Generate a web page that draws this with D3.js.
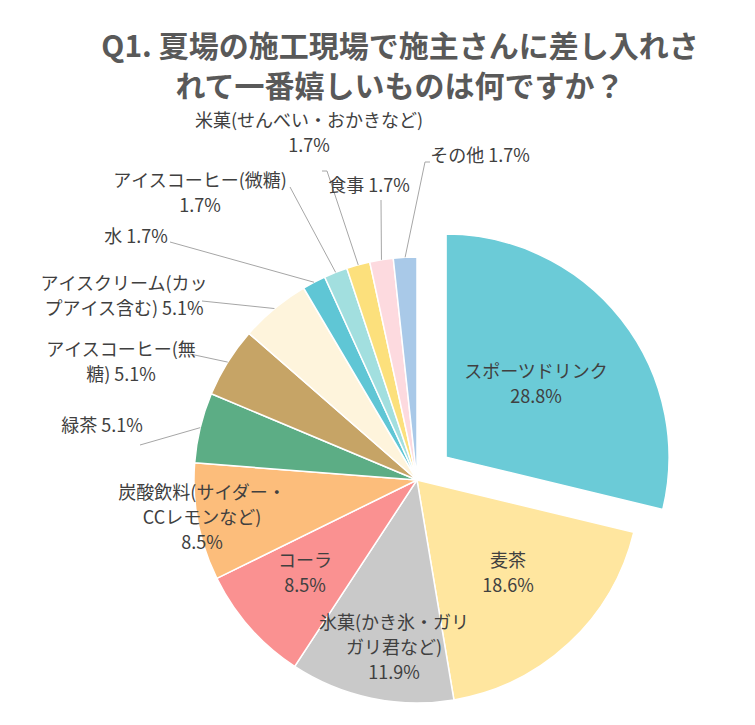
<!DOCTYPE html>
<meta charset="utf-8">
<title>Q1 pie</title>
<style>
  body { margin: 0; background: #fff; }
  .title { font-family: "Noto Sans CJK JP", sans-serif; font-weight: 700; font-size: 30px; fill: #595959; }
  .lbl { font-family: "Noto Sans CJK JP", sans-serif; font-size: 18px; fill: #404040; }
  .leader { fill: none; stroke: #a6a6a6; stroke-width: 1px; }
  .slice { stroke: #fff; stroke-width: 1.5px; }
</style>
<body>
<script src="https://cdn.jsdelivr.net/npm/d3@7"></script>
<script>
  // data
  var categories = ["スポーツドリンク", "麦茶", "氷菓(かき氷・ガリガリ君など)", "コーラ",
    "炭酸飲料(サイダー・CCレモンなど)", "緑茶", "アイスコーヒー(無糖)",
    "アイスクリーム(カップアイス含む)", "水", "アイスコーヒー(微糖)",
    "米菓(せんべい・おかきなど)", "食事", "その他"];
  var values = [28.8, 18.6, 11.9, 8.5, 8.5, 5.1, 5.1, 5.1, 1.7, 1.7, 1.7, 1.7, 1.7];
  // label text as it is broken in the picture, {p} = percentage
  var labelLines = [
    ["スポーツドリンク", "{p}"],
    ["麦茶", "{p}"],
    ["氷菓(かき氷・ガリ", "ガリ君など)", "{p}"],
    ["コーラ", "{p}"],
    ["炭酸飲料(サイダー・", "CCレモンなど)", "{p}"],
    ["緑茶 {p}"],
    ["アイスコーヒー(無", "糖) {p}"],
    ["アイスクリーム(カッ", "プアイス含む) {p}"],
    ["水 {p}"],
    ["アイスコーヒー(微糖)", "{p}"],
    ["米菓(せんべい・おかきなど)", "{p}"],
    ["食事 {p}"],
    ["その他 {p}"]
  ];
  var colors = ["#6bcbd7", "#ffe69f", "#c9c9c9", "#fa9191", "#fcbd7b", "#5cad85", "#c6a466",
    "#fef4dc", "#5fc6d5", "#a2dfdf", "#fce07c", "#fddadf", "#a9c9e8"];
  var titleLines = ["Q1. 夏場の施工現場で施主さんに差し入れさ", "れて一番嬉しいものは何ですか？"];

  // layout
  var width = 755, height = 725;
  var cx = 417, cy = 480, radius = 223, explode = 37;
  var lineH = 25;
  // label anchor (center x, first baseline)
  var labelPos = [[536, 378], [508, 567], [394, 629], [305, 567], [202, 499], [102, 432],
    [121, 356], [124, 290], [136, 243], [200, 187], [309, 127], [369, 192], [480, 162]];
  // leader line start points (null = label inside / no leader)
  var leaderStart = [null, null, null, null, null, [[140, 445]], [[190, 354]], [[202, 301]],
    [[170, 242]], [[290, 187]], [[322, 171], [327, 171]], [[381, 200]], [[430, 162], [425, 162]]];

  var svg = d3.select("body").append("svg")
    .attr("width", width)
    .attr("height", height);

  svg.selectAll(".title")
    .data(titleLines)
    .enter().append("text")
    .attr("class", "title")
    .attr("x", 400)
    .attr("y", function(d, i) { return 57 + i * 40; })
    .attr("text-anchor", "middle")
    .text(function(d) { return d; });

  var pie = d3.pie().sort(null).value(function(d) { return d; });
  var arcs = pie(values);
  var arc = d3.arc().innerRadius(0).outerRadius(radius);

  function midAngle(d) { return (d.startAngle + d.endAngle) / 2; }

  var g = svg.append("g").attr("transform", "translate(" + cx + "," + cy + ")");

  g.selectAll(".slice")
    .data(arcs)
    .enter().append("path")
    .attr("class", "slice")
    .attr("d", arc)
    .attr("fill", function(d, i) { return colors[i]; })
    .attr("transform", function(d, i) {
      if (i != 0) return null;
      var a = midAngle(d);
      return "translate(" + (Math.sin(a) * explode) + "," + (-Math.cos(a) * explode) + ")";
    });

  // leader lines: from label to the rim at the slice's middle angle
  arcs.forEach(function(d, i) {
    if (!leaderStart[i]) return;
    var a = midAngle(d);
    var pts = leaderStart[i].concat([[cx + Math.sin(a) * radius, cy - Math.cos(a) * radius]]);
    svg.append("path")
      .attr("class", "leader")
      .attr("d", d3.line()(pts));
  });

  arcs.forEach(function(d, i) {
    var pct = values[i].toFixed(1) + "%";
    var t = svg.append("text")
      .attr("class", "lbl")
      .attr("text-anchor", "middle");
    labelLines[i].forEach(function(line, k) {
      t.append("tspan")
        .attr("x", labelPos[i][0])
        .attr("y", labelPos[i][1] + k * lineH)
        .text(line.replace("{p}", pct));
    });
  });
</script>
</body>
</html>
